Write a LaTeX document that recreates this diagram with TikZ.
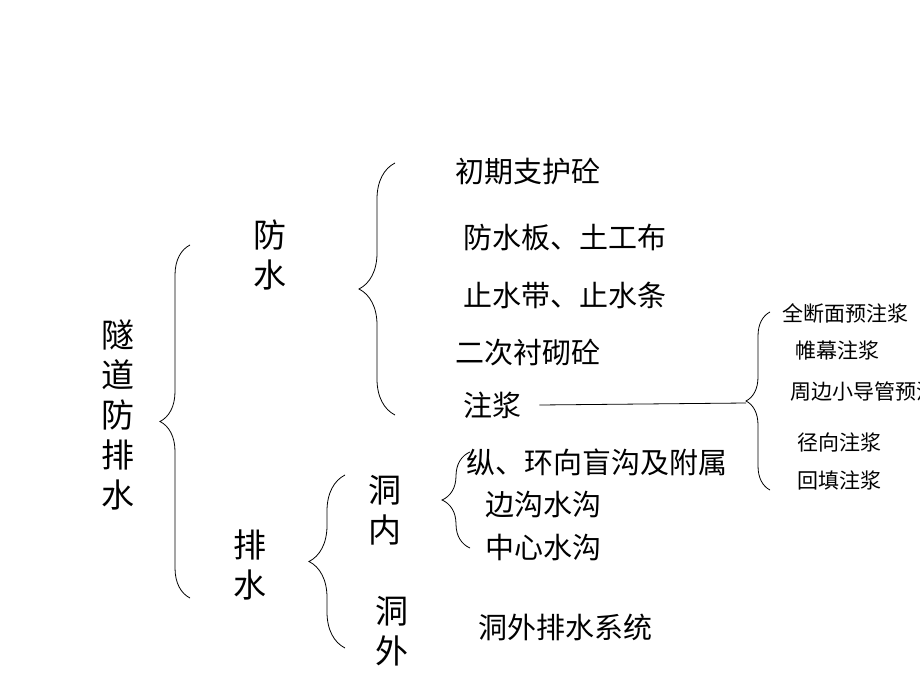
\documentclass[tikz,border=0pt]{standalone}
\usepackage{fontspec}
\setmainfont{Noto Sans CJK SC}
\usetikzlibrary{decorations.pathreplacing}
\begin{document}
\begin{tikzpicture}[x=1pt,y=-1pt,
  br/.style={draw,line width=0.8pt,decorate,decoration={brace,amplitude=#1}},
  big/.style={inner sep=0,font=\fontsize{33}{40}\selectfont},
  mid/.style={inner sep=0,anchor=west,font=\fontsize{29}{34}\selectfont},
  sml/.style={inner sep=0,anchor=west,font=\fontsize{21}{25}\selectfont}]
\useasboundingbox (0,0) rectangle (920,690);
\clip (0,0) rectangle (920,690);
% braces
\coordinate (b1a) at (190,598); \coordinate (b1b) at (190,245);
\draw[br=30] (b1a) -- (b1b);
\coordinate (b2a) at (395,415); \coordinate (b2b) at (395,163);
\draw[br=36] (b2a) -- (b2b);
\coordinate (b3a) at (345,648); \coordinate (b3b) at (345,475);
\draw[br=36] (b3a) -- (b3b);
\coordinate (b4a) at (470,548); \coordinate (b4b) at (470,452);
\draw[br=28] (b4a) -- (b4b);
\coordinate (b5a) at (770,490); \coordinate (b5b) at (770,312);
\draw[br=24] (b5a) -- (b5b);
% main texts
\node[big,align=center] (root) at (118,415) {隧\\道\\防\\排\\水};
\node[big,align=center] (fs) at (270,255) {防\\水};
\node[big,align=center] (ps) at (250,565) {排\\水};
\node[big,align=center] (dn) at (385,510) {洞\\内};
\node[big,align=center] (dw) at (392,631) {洞\\外};
% items
\node[mid] (i1) at (455,172) {初期支护砼};
\node[mid] (i2) at (463,237) {防水板、土工布};
\node[mid] (i3) at (463,295) {止水带、止水条};
\node[mid] (i4) at (455,353) {二次衬砌砼};
\node[mid] (i5) at (463,405) {注浆};
\node[mid] (j1) at (466,462) {纵、环向盲沟及附属};
\node[mid] (j2) at (485,505) {边沟水沟};
\node[mid] (j3) at (485,548) {中心水沟};
\node[mid] (k1) at (478,627) {洞外排水系统};
\coordinate (t5) at (746,403);
\draw[line width=0.8pt] ([xshift=18pt]i5.east) -- (t5);
% right small
\node[sml] (s1) at (782,313) {全断面预注浆};
\node[sml] (s2) at (795,350) {帷幕注浆};
\node[sml] (s3) at (790,392) {周边小导管预注浆};
\node[sml] (s4) at (797,442) {径向注浆};
\node[sml] (s5) at (797,480) {回填注浆};
\end{tikzpicture}
\end{document}
